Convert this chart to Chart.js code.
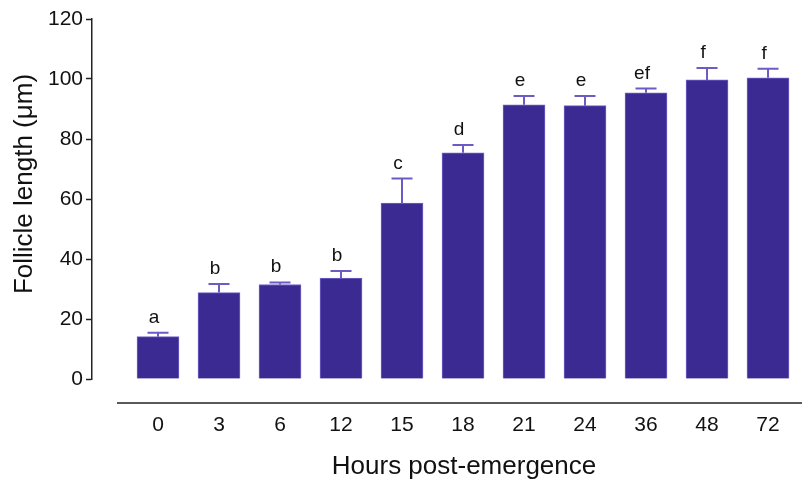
<!DOCTYPE html>
<html>
<head>
<meta charset="utf-8">
<script src="https://cdn.jsdelivr.net/npm/chart.js@4"></script>
<style>
  html, body { margin: 0; padding: 0; background: #fff; }
  #wrap { width: 802px; height: 481px; }
</style>
</head>
<body>
<div id="wrap"><canvas id="follicleChart"></canvas></div>
<script>
// Hours post-emergence and follicle length (mean, SEM)
var hours = ['0', '3', '6', '12', '15', '18', '21', '24', '36', '48', '72'];
var lengthMean = [14.1, 28.8, 31.5, 33.6, 58.6, 75.4, 91.4, 91.1, 95.4, 99.7, 100.4];
var lengthSem = [1.3, 2.9, 0.7, 2.4, 8.2, 2.6, 2.9, 3.2, 1.4, 4.0, 3.0];
var groupLetters = ['a', 'b', 'b', 'b', 'c', 'd', 'e', 'e', 'ef', 'f', 'f'];
var yTicks = [0, 20, 40, 60, 80, 100, 120];
var xTitle = 'Hours post-emergence';
var yTitle = 'Follicle length (μm)';

var FONT = '"Liberation Sans", Arial, sans-serif';

// error bars (upper half only), significance letters, detached x baseline and axis titles
var errorBarPlugin = {
  id: 'errorBars',
  afterDatasetsDraw: function (chart) {
    var ctx = chart.ctx;
    var x = chart.scales.x;
    var y = chart.scales.y;
    var area = chart.chartArea;
    ctx.save();
    lengthMean.forEach(function (m, i) {
      var cx = x.getPixelForValue(i);
      var yTop = y.getPixelForValue(m + lengthSem[i]);
      var yBar = y.getPixelForValue(m);
      ctx.strokeStyle = '#6a5cc4';
      ctx.lineWidth = 2;
      ctx.beginPath();
      ctx.moveTo(cx, yBar);
      ctx.lineTo(cx, yTop);
      ctx.moveTo(cx - 10.5, yTop);
      ctx.lineTo(cx + 10.5, yTop);
      ctx.stroke();

      ctx.fillStyle = '#111';
      ctx.font = '19px ' + FONT;
      ctx.textAlign = 'center';
      ctx.textBaseline = 'alphabetic';
      ctx.fillText(groupLetters[i], cx - 4, yTop - 10);
    });

    var by = area.bottom + 24;
    ctx.strokeStyle = '#222';
    ctx.lineWidth = 1.5;
    ctx.beginPath();
    ctx.moveTo(117, by);
    ctx.lineTo(chart.width, by);
    ctx.stroke();

    ctx.fillStyle = '#111';
    ctx.font = '26px ' + FONT;
    ctx.textAlign = 'center';
    ctx.textBaseline = 'middle';
    var midBars = (x.getPixelForValue(0) + x.getPixelForValue(hours.length - 1)) / 2;
    ctx.fillText(xTitle, midBars + 1, 467);

    ctx.translate(25, 184);
    ctx.rotate(-Math.PI / 2);
    ctx.fillText(yTitle, 0, 0);
    ctx.restore();
  }
};

document.addEventListener('DOMContentLoaded', function () {
  var ctx = document.getElementById('follicleChart').getContext('2d');

  new Chart(ctx, {
    type: 'bar',
    data: {
      datasets: [{
        label: 'Follicle length',
        data: lengthMean.map(function (v, i) { return { x: i, y: v }; }),
        backgroundColor: '#3b2a92',
        borderColor: '#7064c8',
        borderWidth: 1,
        barThickness: 42
      }]
    },
    options: {
      responsive: true,
      maintainAspectRatio: false,
      animation: false,
      layout: { padding: { top: 19, left: 0, right: 0, bottom: 0 } },
      plugins: {
        legend: { display: false },
        tooltip: { enabled: false }
      },
      scales: {
        x: {
          type: 'linear',
          offset: false,
          min: -1.082,
          max: 10.557,
          afterBuildTicks: function (scale) {
            scale.ticks = hours.map(function (h, i) { return { value: i }; });
          },
          afterFit: function (scale) {
            scale.height = 102;
            scale.paddingLeft = 0;
            scale.paddingRight = 0;
          },
          grid: { display: false, drawTicks: false, offset: false },
          border: { display: false },
          ticks: {
            autoSkip: false,
            maxRotation: 0,
            padding: 34,
            color: '#111',
            font: { family: FONT, size: 21 },
            callback: function (value) { return hours[value]; }
          }
        },
        y: {
          min: 0,
          max: 120,
          afterBuildTicks: function (scale) {
            scale.ticks = yTicks.map(function (v) { return { value: v }; });
          },
          afterFit: function (scale) { scale.width = 92; },
          grid: {
            drawOnChartArea: false,
            drawTicks: true,
            tickLength: 6,
            tickWidth: 1.5,
            tickColor: '#222'
          },
          border: { display: true, color: '#222', width: 1.5 },
          ticks: {
            padding: 3,
            color: '#111',
            font: { family: FONT, size: 21 }
          }
        }
      }
    },
    plugins: [errorBarPlugin]
  });
});
</script>
</body>
</html>
